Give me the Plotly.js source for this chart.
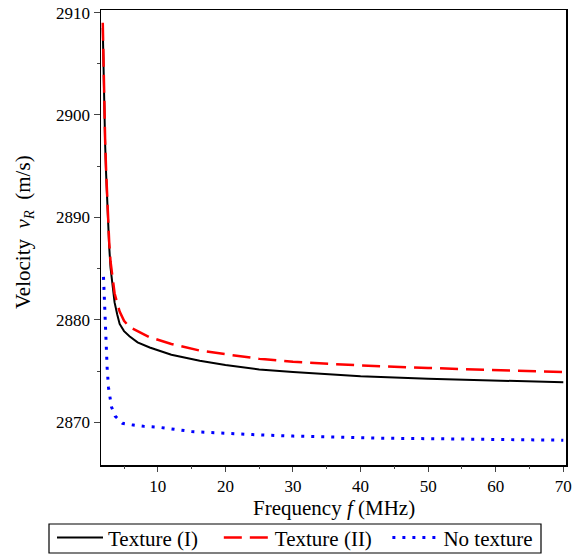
<!DOCTYPE html>
<html>
<head>
<meta charset="utf-8">
<script src="https://cdn.plot.ly/plotly-3.0.1.min.js"></script>
<style>
html,body{margin:0;padding:0;background:#fff;}
#chart{width:572px;height:555px;}
</style>
</head>
<body>
<div id="chart"></div>
<script>
// Frequency (MHz) samples for the textured cases
const freqTexture = [1.85, 1.95, 2.06, 2.2, 2.35, 2.55, 2.8, 3.0, 3.3, 3.6, 4.0, 4.35, 5.0, 5.8, 7.0, 8.8, 12, 16.2, 20, 25, 30, 40, 50, 60, 70];
// Velocity v_R (m/s), Texture (I)
const velTextureI = [2908.5, 2904, 2900.5, 2897.2, 2894.2, 2890.7, 2887.2, 2885.1, 2883.3, 2881.7, 2880.5, 2879.6, 2878.9, 2878.4, 2877.8, 2877.3, 2876.6, 2876.0, 2875.6, 2875.15, 2874.9, 2874.5, 2874.25, 2874.05, 2873.9];
// Velocity v_R (m/s), Texture (II)
const velTextureII = [2909.0, 2904.5, 2901.0, 2897.6, 2894.5, 2891.0, 2887.6, 2885.7, 2884.0, 2882.6, 2881.6, 2880.8, 2879.9, 2879.3, 2878.9, 2878.3, 2877.65, 2877.0, 2876.65, 2876.2, 2875.9, 2875.55, 2875.3, 2875.1, 2874.9];
// No texture
const freqNoTexture = [1.96, 2.06, 2.21, 2.36, 2.5, 2.7, 2.89, 3.14, 3.69, 4.77, 6.15, 8, 10.3, 15, 24, 30, 43, 55, 70];
const velNoTexture = [2884.2, 2882.2, 2879.3, 2877.3, 2875.3, 2873.4, 2872.4, 2871.5, 2870.6, 2869.9, 2869.75, 2869.6, 2869.5, 2869.1, 2868.8, 2868.65, 2868.45, 2868.35, 2868.25];

const seriesNames = ["Texture (I)", "Texture (II)", "No texture"];
const xTitle = "Frequency <i>f</i> (MHz)";
const yTitle = "Velocity\u00a0\u00a0<i>v</i><sub><i>R</i></sub>\u00a0\u00a0(m/s)";

const xRange = [1.59, 70.4];
const yRange = [2865.83, 2910.25];

const traces = [
  {x: freqTexture, y: velTextureI, name: seriesNames[0] + "\u00a0\u00a0\u00a0", mode: "lines",
   line: {color: "#000000", width: 2}},
  {x: freqTexture, y: velTextureII, name: seriesNames[1] + "\u00a0\u00a0", mode: "lines",
   line: {color: "#ff0000", width: 2.5, dash: "18px,8px"}},
  {x: freqNoTexture, y: velNoTexture, name: seriesNames[2], mode: "lines",
   line: {color: "#0000ff", width: 3, dash: "3px,7px"}},
  // empty helper trace so the minor-tick overlay axes get drawn
  {x: [], y: [], xaxis: "x2", yaxis: "y2", mode: "lines", showlegend: false, hoverinfo: "skip"}
];

const layout = {
  width: 572, height: 555,
  margin: {l: 101, r: 6, t: 10, b: 90, autoexpand: false},
  paper_bgcolor: "#fff", plot_bgcolor: "#fff",
  font: {family: "Times New Roman", color: "#000", size: 17},
  xaxis: {
    range: xRange, tick0: 0, dtick: 10,
    showline: true, linecolor: "#000", linewidth: 1.5, mirror: true,
    showgrid: false, zeroline: false,
    ticks: "outside", ticklen: 5, tickwidth: 1, tickcolor: "#444"
  },
  yaxis: {
    range: yRange, tick0: 2870, dtick: 10,
    showline: true, linecolor: "#000", linewidth: 1.5, mirror: true,
    showgrid: false, zeroline: false,
    ticks: "outside", ticklen: 6, tickwidth: 1, tickcolor: "#444"
  },
  xaxis2: {
    overlaying: "x", anchor: "y", side: "bottom", range: xRange,
    tick0: 5, dtick: 10, ticks: "outside", ticklen: 3, tickwidth: 1, tickcolor: "#444",
    showticklabels: false, showgrid: false, zeroline: false, showline: false
  },
  yaxis2: {
    overlaying: "y", anchor: "x", side: "left", range: yRange,
    tick0: 2865, dtick: 10, ticks: "outside", ticklen: 3, tickwidth: 1, tickcolor: "#444",
    showticklabels: false, showgrid: false, zeroline: false, showline: false
  },
  annotations: [
    {xref: "paper", yref: "paper", x: 0.5, y: (465 - 508) / 455,
     xanchor: "center", yanchor: "middle", showarrow: false,
     text: xTitle, font: {family: "Times New Roman", size: 21, color: "#000"}},
    {xref: "paper", yref: "paper", x: (24 - 101) / 465, y: (465 - 232) / 455,
     xanchor: "center", yanchor: "middle", showarrow: false, textangle: -90,
     text: yTitle, font: {family: "Times New Roman", size: 21, color: "#000"}}
  ],
  showlegend: true,
  legend: {
    orientation: "h", xref: "paper", yref: "paper",
    x: (52 - 101) / 465, xanchor: "left", y: -0.115, yanchor: "top",
    borderwidth: 0, bgcolor: "rgba(0,0,0,0)",
    font: {family: "Times New Roman", size: 21, color: "#000"},
    itemwidth: 46, tracegroupgap: 0
  },
  shapes: [
    {type: "rect", xref: "paper", yref: "paper",
     x0: (49 - 101) / 465, x1: (541 - 101) / 465,
     y0: (465 - 524) / 455, y1: (465 - 553) / 455,
     line: {color: "#000", width: 1.2}, fillcolor: "rgba(0,0,0,0)", layer: "above"}
  ]
};

Plotly.newPlot("chart", traces, layout, {staticPlot: true, displayModeBar: false});
</script>
</body>
</html>
